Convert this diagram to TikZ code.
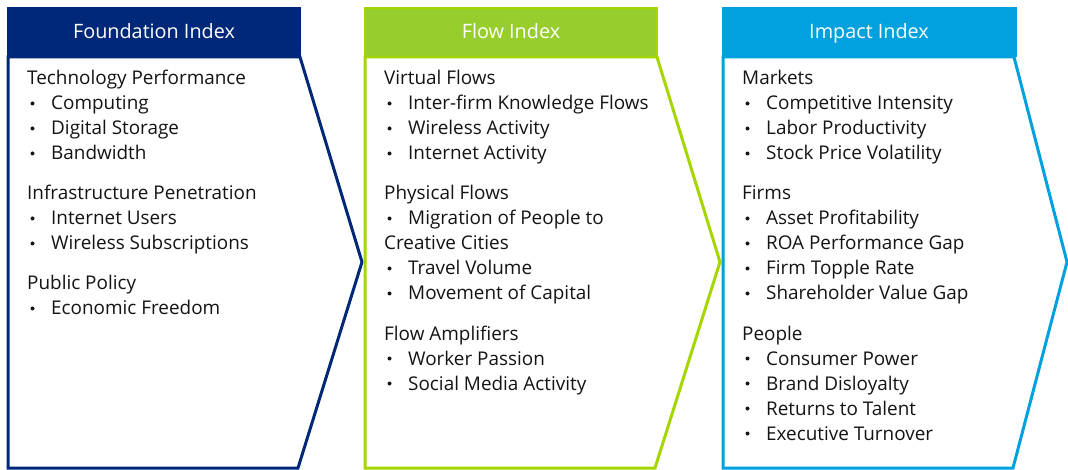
\documentclass[tikz,border=0pt]{standalone}
\usepackage{fontspec}
\setmainfont{Open Sans}
\definecolor{navy}{RGB}{0,40,120}
\definecolor{greenhead}{RGB}{151,206,45}
\definecolor{greenline}{RGB}{166,214,0}
\definecolor{skyblue}{RGB}{0,161,222}
\tikzset{
  hdr/.style={font=\fontsize{19.8}{22}\selectfont, text=white, anchor=base, inner sep=0pt},
  sect/.style={font=\fontsize{18.9}{22}\selectfont, text=black!92, anchor=base west, inner sep=0pt},
  itm/.style={font=\fontsize{18.9}{22}\selectfont, text=black!92, anchor=base west, inner sep=0pt},
  bul/.style={circle, fill=black!92, inner sep=0pt, minimum size=4pt},
  outline/.style={line width=3pt, line join=miter, fill=white}
}
\newcommand{\bitem}[4]{% name, x0, baseline, text
  \node[bul] (#1b) at (#2+5.5,#3-6.5) {};
  \node[itm] (#1) at (#2+24,#3) {#4};
}
\begin{document}
\begin{tikzpicture}[x=1pt,y=-1pt]
\useasboundingbox (0,0) rectangle (1068,470);
% Foundation
\draw[outline, draw=navy] (8,57) -- (300,57) -- (362,262) -- (298,468) -- (8,468) -- cycle;
\fill[navy] (7,7) rectangle (301,57);
\node[hdr] (fh) at (154,39) {Foundation Index};
% Flow
\draw[outline, draw=greenline] (365,57) -- (657,57) -- (720,262) -- (655,468) -- (365,468) -- cycle;
\fill[greenhead] (364,7) rectangle (658,57);
\draw[greenline, line width=2pt] (365,8) rectangle (657,57);
\node[hdr] (gh) at (511,39) {Flow Index};
% Impact
\draw[outline, draw=skyblue] (723,57) -- (1014,57) -- (1067,262) -- (1013,468) -- (723,468) -- cycle;
\fill[skyblue] (722,7) rectangle (1017,57);
\node[hdr] (ih) at (869,39) {Impact Index};

% Foundation text
\node[sect] (f1) at (27,85) {Technology Performance};
\bitem{f11}{27}{110}{Computing}
\bitem{f12}{27}{135}{Digital Storage}
\bitem{f13}{27}{160}{Bandwidth}
\node[sect] (f2) at (27,200) {Infrastructure Penetration};
\bitem{f21}{27}{225}{Internet Users}
\bitem{f22}{27}{250}{Wireless Subscriptions}
\node[sect] (f3) at (27,290) {Public Policy};
\bitem{f31}{27}{315}{Economic Freedom}

% Flow text
\node[sect] (g1) at (384,85) {Virtual Flows};
\bitem{g11}{384}{110}{Inter-firm Knowledge Flows}
\bitem{g12}{384}{135}{Wireless Activity}
\bitem{g13}{384}{160}{Internet Activity}
\node[sect] (g2) at (384,200) {Physical Flows};
\bitem{g21}{384}{225}{Migration of People to}
\node[itm] (g21c) at (384,250) {Creative Cities};
\bitem{g22}{384}{275}{Travel Volume}
\bitem{g23}{384}{300}{Movement of Capital}
\node[sect] (g3) at (384,340) {Flow Amplifiers};
\bitem{g31}{384}{365}{Worker Passion}
\bitem{g32}{384}{390}{Social Media Activity}

% Impact text
\node[sect] (i1) at (742,85) {Markets};
\bitem{i11}{742}{110}{Competitive Intensity}
\bitem{i12}{742}{135}{Labor Productivity}
\bitem{i13}{742}{160}{Stock Price Volatility}
\node[sect] (i2) at (742,200) {Firms};
\bitem{i21}{742}{225}{Asset Profitability}
\bitem{i22}{742}{250}{ROA Performance Gap}
\bitem{i23}{742}{275}{Firm Topple Rate}
\bitem{i24}{742}{300}{Shareholder Value Gap}
\node[sect] (i3) at (742,340) {People};
\bitem{i31}{742}{365}{Consumer Power}
\bitem{i32}{742}{390}{Brand Disloyalty}
\bitem{i33}{742}{415}{Returns to Talent}
\bitem{i34}{742}{440}{Executive Turnover}
\end{tikzpicture}
\end{document}
